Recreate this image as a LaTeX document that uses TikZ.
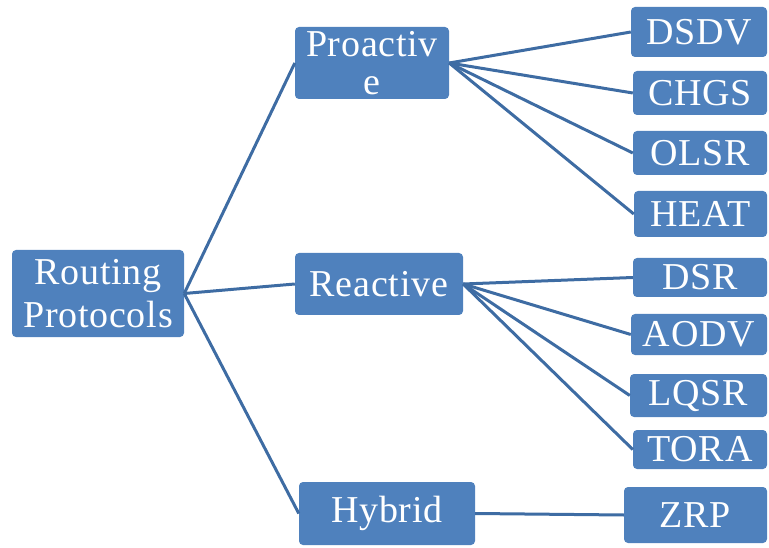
\documentclass[tikz,border=0pt]{standalone}
\usepackage{fontspec}
\setmainfont{Liberation Serif}[LetterSpace=2]
\definecolor{boxblue}{HTML}{4F81BD}
\definecolor{lineblue}{HTML}{3E6CA3}
\begin{document}
\begin{tikzpicture}[x=1pt,y=-1pt,
  box/.style={draw=none,fill=boxblue,rounded corners=4pt,inner sep=0pt,text=white,
    font=\fontsize{38}{43}\selectfont,align=center},
  link/.style={draw=lineblue,line width=3pt}]
\useasboundingbox (0,0) rectangle (769,548);
\node[box,minimum width=172pt,minimum height=87pt] (rp) at (98,293.5) {Routing\\Protocols};
\node[box,minimum width=154pt,minimum height=72pt,font=\fontsize{38}{38}\selectfont] (pro) at (372,63) {Proactiv\\e};
\node[box,minimum width=168pt,minimum height=62pt] (rea) at (379,284) {Reactive};
\node[box,minimum width=176pt,minimum height=63pt] (hyb) at (387,513.5) {Hybrid};
\node[box,minimum width=136pt,minimum height=50pt] (dsdv) at (699,32) {DSDV};
\node[box,minimum width=134pt,minimum height=44pt] (chgs) at (700,93) {CHGS};
\node[box,minimum width=134pt,minimum height=44pt] (olsr) at (700,153) {OLSR};
\node[box,minimum width=133pt,minimum height=46pt] (heat) at (700.5,214) {HEAT};
\node[box,minimum width=134pt,minimum height=39pt] (dsr) at (700,277.5) {DSR};
\node[box,minimum width=136pt,minimum height=41pt] (aodv) at (699,334.5) {AODV};
\node[box,minimum width=137pt,minimum height=43pt] (lqsr) at (698.5,395.5) {LQSR};
\node[box,minimum width=134pt,minimum height=39pt] (tora) at (700,449.5) {TORA};
\node[box,minimum width=143pt,minimum height=56pt] (zrp) at (695.5,515) {ZRP};
\foreach \c in {pro,rea,hyb} \draw[link] (rp.east) -- (\c.west);
\foreach \c in {dsdv,chgs,olsr,heat} \draw[link] (pro.east) -- (\c.west);
\foreach \c in {dsr,aodv,lqsr,tora} \draw[link] (rea.east) -- (\c.west);
\draw[link] (hyb.east) -- (zrp.west);
\end{tikzpicture}
\end{document}
